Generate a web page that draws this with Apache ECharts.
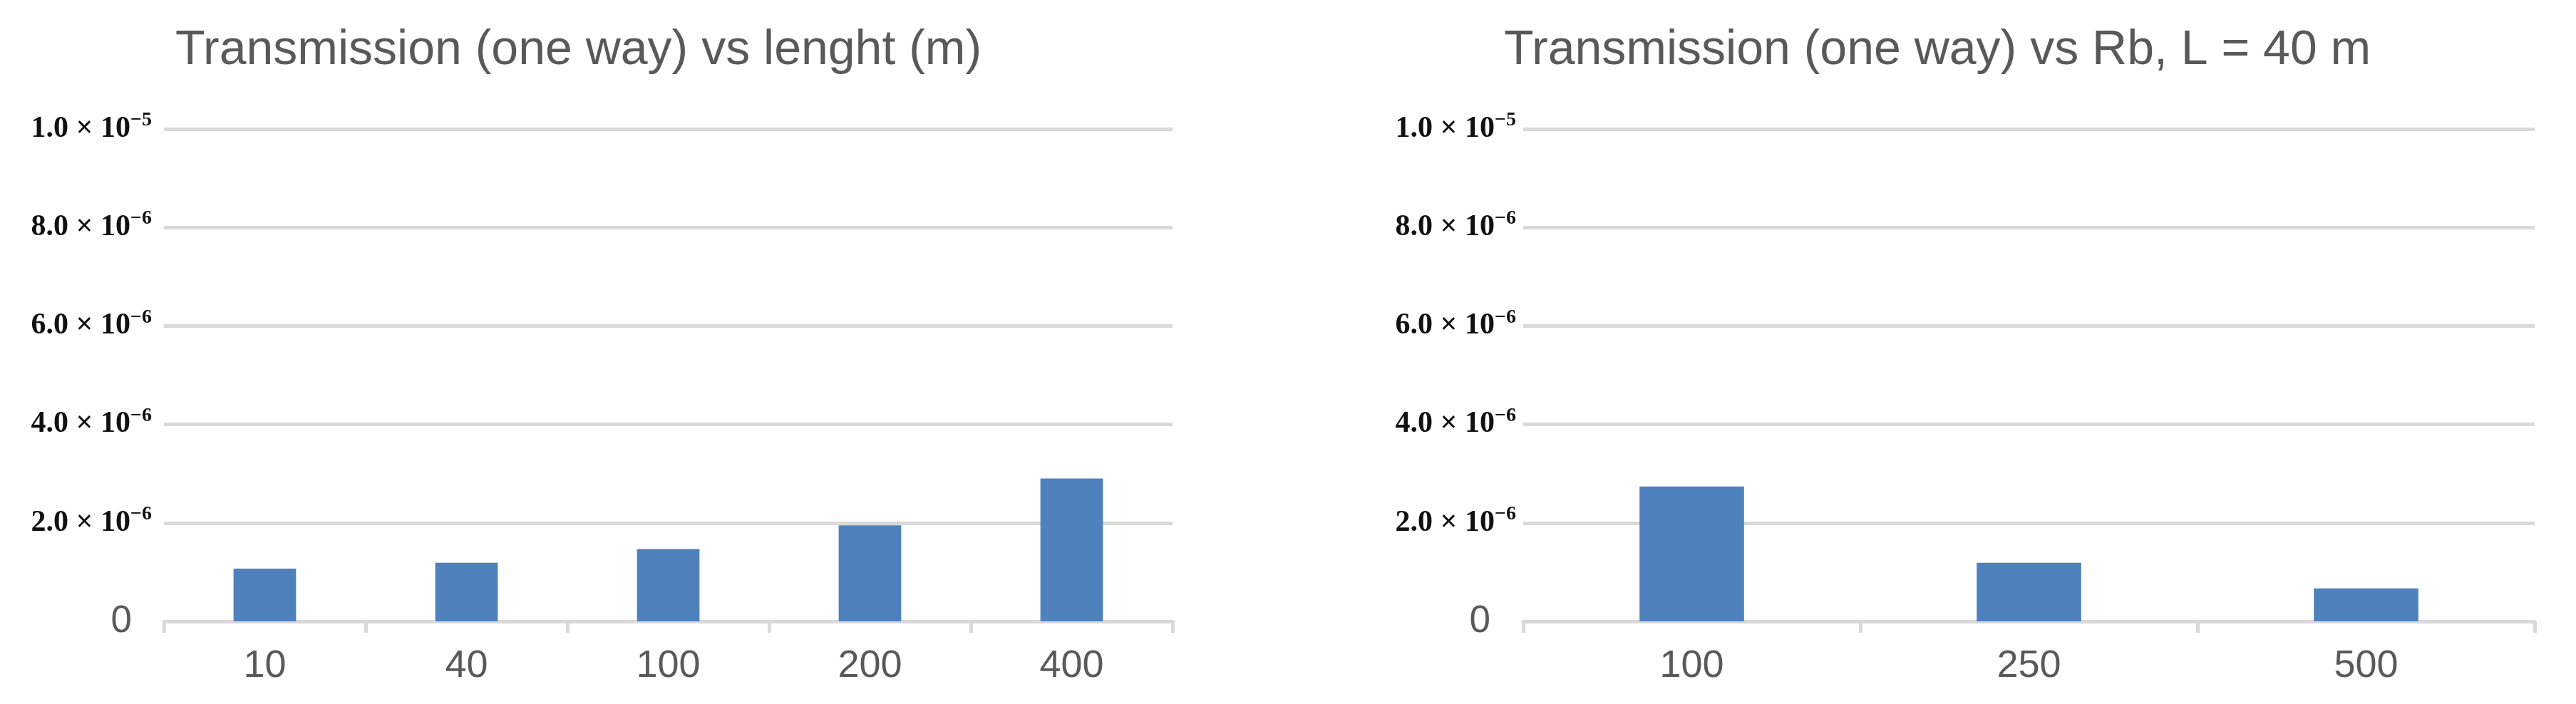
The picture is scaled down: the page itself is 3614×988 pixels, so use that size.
<!DOCTYPE html>
<html>
<head>
<meta charset="utf-8">
<script src="https://cdn.jsdelivr.net/npm/echarts@6/dist/echarts.min.js"></script>
<style>
    html, body { margin: 0; padding: 0; background: #fff; }
    #chart { width: 3614px; height: 988px; }
</style>
</head>
<body>
<div id="chart"></div>
<script>
// data
const lengthCategories = ['10', '40', '100', '200', '400'];
const lengthValues = [1.07e-6, 1.19e-6, 1.47e-6, 1.95e-6, 2.90e-6];

const rbCategories = ['100', '250', '500'];
const rbValues = [2.74e-6, 1.19e-6, 0.67e-6];

// y tick labels, '^' marks the exponent
const yTickLabels = ['0', '2.0 × 10^−6', '4.0 × 10^−6', '6.0 × 10^−6', '8.0 × 10^−6', '1.0 × 10^−5'];

const titles = ['Transmission (one way) vs lenght (m)', 'Transmission (one way) vs Rb, L = 40 m'];

const gridColor = '#d9d9d9';
const textGray = '#595959';
const barColor = '#4f81bd';

function yLabel (value, index) {
    let txt = yTickLabels[index];
    if (txt.indexOf('^') < 0) {
        return '{z|' + txt + '}';
    }
    let parts = txt.split('^');
    return '{m|' + parts[0] + '}{s|' + parts[1] + '}';
}

function makeYAxis (gridIndex, margin, zeroPad) {
    return {
        type: 'value',
        gridIndex: gridIndex,
        min: 0,
        max: 1e-5,
        interval: 2e-6,
        axisLine: { show: false },
        axisTick: { show: false },
        splitLine: {
            show: true,
            lineStyle: { color: gridColor, width: 5 }
        },
        axisLabel: {
            margin: margin,
            formatter: yLabel,
            rich: {
                m: {
                    fontFamily: 'Liberation Serif',
                    fontSize: 42,
                    fontWeight: 'bold',
                    color: '#111'
                },
                s: {
                    fontFamily: 'Liberation Serif',
                    fontSize: 28,
                    fontWeight: 'bold',
                    color: '#111',
                    padding: [0, 0, 24, 0]
                },
                z: {
                    fontFamily: 'Liberation Sans',
                    fontSize: 53,
                    color: textGray,
                    padding: [0, zeroPad, 0, 0]
                }
            }
        }
    };
}

function makeXAxis (gridIndex, cats) {
    return {
        type: 'category',
        gridIndex: gridIndex,
        data: cats,
        axisLine: {
            show: true,
            lineStyle: { color: gridColor, width: 5 }
        },
        axisTick: {
            show: true,
            length: 16,
            lineStyle: { color: gridColor, width: 5 }
        },
        axisLabel: {
            margin: 36,
            fontFamily: 'Liberation Sans',
            fontSize: 54,
            color: textGray
        },
        splitLine: { show: false }
    };
}

const chart = echarts.init(document.getElementById('chart'), null, { renderer: 'canvas' });

chart.setOption({
    backgroundColor: '#fff',
    animation: false,
    title: [
        {
            text: titles[0],
            left: 241,
            top: 32,
            textStyle: { fontFamily: 'Liberation Sans', fontSize: 68, fontWeight: 'normal', color: textGray }
        },
        {
            text: titles[1],
            left: 2105,
            top: 32,
            textStyle: { fontFamily: 'Liberation Sans', fontSize: 68, fontWeight: 'normal', color: textGray }
        }
    ],
    grid: [
        { left: 230, top: 181, width: 1415, height: 691 },
        { left: 2137, top: 181, width: 1419, height: 691 }
    ],
    xAxis: [
        makeXAxis(0, lengthCategories),
        makeXAxis(1, rbCategories)
    ],
    yAxis: [
        makeYAxis(0, 17, 28),
        makeYAxis(1, 10, 36)
    ],
    series: [
        {
            name: 'length',
            type: 'bar',
            xAxisIndex: 0,
            yAxisIndex: 0,
            barWidth: '31%',
            itemStyle: { color: barColor },
            data: lengthValues
        },
        {
            name: 'Rb',
            type: 'bar',
            xAxisIndex: 1,
            yAxisIndex: 1,
            barWidth: '31%',
            itemStyle: { color: barColor },
            data: rbValues
        }
    ]
});
</script>
</body>
</html>
